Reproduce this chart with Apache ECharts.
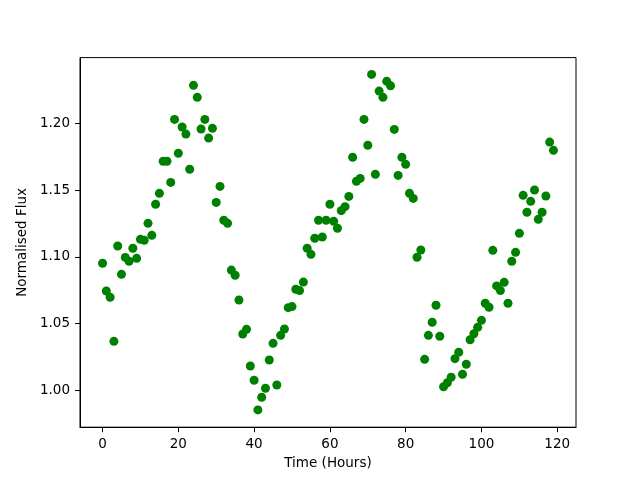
<!DOCTYPE html>
<html>
<head>
<meta charset="utf-8">
<script src="https://cdn.jsdelivr.net/npm/echarts@6/dist/echarts.min.js"></script>
<style>
  html, body { margin: 0; padding: 0; background: #fff; }
  #chart { width: 640px; height: 480px; }
</style>
</head>
<body>
<div id="chart"></div>
<script>
// ======================
// DATA
// ======================

const hours = [
    0, 1, 2, 3, 4, 5, 6, 7, 8, 9, 10, 11, 12, 13, 14, 15, 16, 17, 18, 19,
    20, 21, 22, 23, 24, 25, 26, 27, 28, 29, 30, 31, 32, 33, 34, 35, 36, 37, 38, 39,
    40, 41, 42, 43, 44, 45, 46, 47, 48, 49, 50, 51, 52, 53, 54, 55, 56, 57, 58, 59,
    60, 61, 62, 63, 64, 65, 66, 67, 68, 69, 70, 71, 72, 73, 74, 75, 76, 77, 78, 79,
    80, 81, 82, 83, 84, 85, 86, 87, 88, 89, 90, 91, 92, 93, 94, 95, 96, 97, 98, 99,
    100, 101, 102, 103, 104, 105, 106, 107, 108, 109, 110, 111, 112, 113, 114, 115, 116, 117, 118, 119
];

const flux = [
    1.0952, 1.0744, 1.0697, 1.0367, 1.1081, 1.0869, 1.0996, 1.0967, 1.1064, 1.0989,
    1.1131, 1.1124, 1.1251, 1.1161, 1.1394, 1.1476, 1.1716, 1.1716, 1.1558, 1.2030,
    1.1776, 1.1973, 1.1920, 1.1656, 1.2285, 1.2195, 1.1958, 1.2030, 1.1890, 1.1963,
    1.1408, 1.1528, 1.1274, 1.1251, 1.0901, 1.0862, 1.0677, 1.0422, 1.0457, 1.0182,
    1.0075, 0.9853, 0.9948, 1.0015, 1.0227, 1.0352, 1.0040, 1.0412, 1.0459, 1.0619,
    1.0627, 1.0757, 1.0747, 1.0811, 1.1064, 1.1019, 1.1139, 1.1274, 1.1149, 1.1274,
    1.1394, 1.1266, 1.1214, 1.1346, 1.1376, 1.1453, 1.1746, 1.1566, 1.1588, 1.2030,
    1.1836, 1.2367, 1.1618, 1.2242, 1.2195, 1.2315, 1.2282, 1.1955, 1.1610, 1.1746,
    1.1693, 1.1476, 1.1438, 1.0997, 1.1051, 1.0232, 1.0412, 1.0510, 1.0637, 1.0405,
    1.0027, 1.0057, 1.0098, 1.0237, 1.0285, 1.0120, 1.0195, 1.0379, 1.0424, 1.0472,
    1.0524, 1.0652, 1.0622, 1.1049, 1.0782, 1.0747, 1.0809, 1.0652, 1.0967, 1.1034,
    1.1176, 1.1461, 1.1334, 1.1416, 1.1501, 1.1281, 1.1334, 1.1456, 1.1860, 1.1798
];

const xTicks = [0, 20, 40, 60, 80, 100, 120];
const yTicks = [1.00, 1.05, 1.10, 1.15, 1.20];

// ======================
// CHART
// ======================

const FONT = 'DejaVu Sans';
const chart = echarts.init(document.getElementById('chart'), null, { renderer: 'canvas' });

const axisCommon = {
    axisLine: { show: true, onZero: false, lineStyle: { color: '#000', width: 1 } },
    axisTick: { show: true, inside: false, length: 5, lineStyle: { color: '#000', width: 1 } },
    splitLine: { show: false },
    nameTextStyle: { fontFamily: FONT, fontSize: 13.5, color: '#000' }
};

chart.setOption({
    animation: false,
    backgroundColor: '#fff',
    grid: {
        left: 80, right: 64, top: 57.6, bottom: 52.8,
        show: true, borderColor: '#000', borderWidth: 1
    },
    xAxis: {
        ...axisCommon,
        type: 'value',
        min: -5.95,
        max: 124.95,
        name: 'Time (Hours)',
        nameLocation: 'middle',
        nameGap: 29,
        axisTick: { ...axisCommon.axisTick, customValues: xTicks },
        axisLabel: {
            customValues: xTicks,
            margin: 10,
            fontFamily: FONT, fontSize: 13.5, color: '#000'
        }
    },
    yAxis: {
        ...axisCommon,
        type: 'value',
        min: 0.97235,
        max: 1.2493,
        name: 'Normalised Flux',
        nameLocation: 'middle',
        nameGap: 47,
        axisTick: { ...axisCommon.axisTick, customValues: yTicks },
        axisLabel: {
            customValues: yTicks,
            margin: 10,
            formatter: v => v.toFixed(2),
            fontFamily: FONT, fontSize: 13.5, color: '#000'
        }
    },
    series: [{
        type: 'scatter',
        symbol: 'circle',
        symbolSize: 9,
        itemStyle: { color: '#008000', opacity: 1 },
        data: hours.map((h, i) => [h, flux[i]])
    }]
});
</script>
</body>
</html>
